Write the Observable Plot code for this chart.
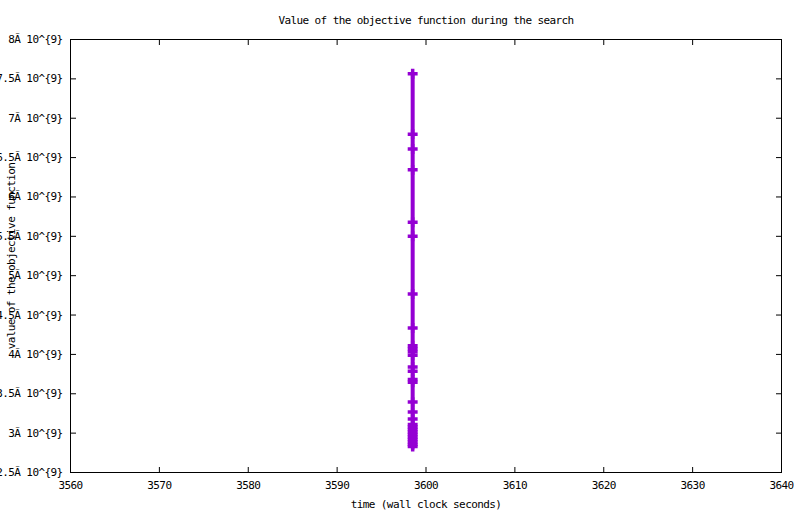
<!DOCTYPE html>
<html><head><meta charset="utf-8">
<script src="https://cdn.jsdelivr.net/npm/d3@7"></script>
<script src="https://cdn.jsdelivr.net/npm/@observablehq/plot@0.6"></script>
<style>body{margin:0;background:#fff}</style>
</head><body><div id="chart"></div>
<script>
const title = "Value of the objective function during the search";
const xLabel = "time (wall clock seconds)";
const yLabel = "value of the objective function";
const xTicks = [3560, 3570, 3580, 3590, 3600, 3610, 3620, 3630, 3640];
const yTicks = [2.5e9, 3e9, 3.5e9, 4e9, 4.5e9, 5e9, 5.5e9, 6e9, 6.5e9, 7e9, 7.5e9, 8e9];
const times = [3598.5, 3598.5, 3598.5, 3598.5, 3598.5, 3598.5, 3598.5, 3598.5, 3598.5, 3598.5,
               3598.5, 3598.5, 3598.5, 3598.5, 3598.5, 3598.5, 3598.5, 3598.5, 3598.5, 3598.5,
               3598.5, 3598.5, 3598.5, 3598.5, 3598.5, 3598.5, 3598.5, 3598.5, 3598.5];
const values = [7.565e9, 6.798e9, 6.608e9, 6.344e9, 5.679e9, 5.501e9, 4.768e9, 4.335e9, 4.109e9, 4.071e9,
                4.033e9, 3.988e9, 3.839e9, 3.785e9, 3.680e9, 3.647e9, 3.394e9, 3.267e9, 3.178e9, 3.111e9,
                3.079e9, 3.047e9, 3.015e9, 2.984e9, 2.952e9, 2.920e9, 2.888e9, 2.856e9, 2.831e9];
const data = times.map((t, i) => ({t, v: values[i]}));
const color = "#9400d3";

const chart = Plot.plot({
  width: 800, height: 514,
  marginLeft: 70, marginRight: 19, marginTop: 39, marginBottom: 42,
  style: {fontFamily: "'DejaVu Sans Mono', monospace", fontSize: "11px", letterSpacing: "-0.6px", background: "#fff", color: "#000"},
  x: {domain: [3560, 3640]},
  y: {domain: [2.5e9, 8e9]},
  marks: [
    Plot.frame({stroke: "#000"}),
    Plot.axisX(xTicks, {anchor: "bottom", tickSize: -5, tickPadding: 14, tickFormat: d => String(d), label: null}),
    Plot.axisX(xTicks, {anchor: "top", tickSize: -5, tickFormat: () => "", label: null}),
    Plot.axisY(yTicks, {anchor: "left", tickSize: -6, tickPadding: 14, tickFormat: d => `${d / 1e9}Ã 10^{9}`, label: null}),
    Plot.axisY(yTicks, {anchor: "right", tickSize: -6, tickFormat: () => "", label: null}),
    Plot.line(data, {x: "t", y: "v", stroke: color, strokeWidth: 4, strokeLinecap: "butt"}),
    Plot.dot(data, {x: "t", y: "v", symbol: "plus", r: 3.3, stroke: color, strokeWidth: 3.5}),
    Plot.text([title], {text: d => d, frameAnchor: "top", dy: -19, lineAnchor: "middle", fill: "#000"}),
    Plot.text([xLabel], {text: d => d, frameAnchor: "bottom", dy: 32, lineAnchor: "middle", fill: "#000"}),
    Plot.text([yLabel], {text: d => d, frameAnchor: "left", dx: -59, rotate: -90, textAnchor: "middle", lineAnchor: "middle", fill: "#000"})
  ]
});
document.getElementById("chart").appendChild(chart);
</script>
</body></html>
